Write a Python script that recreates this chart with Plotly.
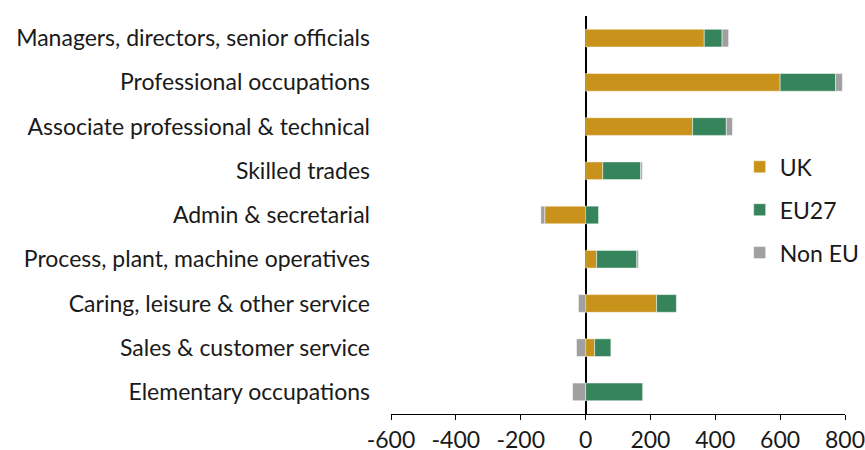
import plotly.graph_objects as go

categories = [
    "Managers, directors, senior officials",
    "Professional occupations",
    "Associate professional & technical",
    "Skilled trades",
    "Admin & secretarial",
    "Process, plant, machine operatives",
    "Caring, leisure & other service",
    "Sales & customer service",
    "Elementary occupations",
]
uk = [366, 600, 330, 53, -126, 34, 219, 28, 0]
eu27 = [55, 171, 104, 117, 40, 124, 61, 50, 176]
non_eu = [20, 21, 19, 5, -12, 5, -22, -28, -40]
tick_vals = [-600, -400, -200, 0, 200, 400, 600, 800]
tick_text = ["-600", "-400", "-200", "0", "200", "400", "600", "800"]

FONT = "Lato"
fig = go.Figure()
series = [("UK", uk, "#C9921A"), ("EU27", eu27, "#35845B"), ("Non EU", non_eu, "#A0A0A0")]
for name, vals, col in series:
    fig.add_trace(go.Bar(
        y=categories, x=vals, name=name, orientation="h",
        marker=dict(color=col, line=dict(color="rgba(255,255,255,0.6)", width=0.8)),
        legendgroup=name,
    ))

fig.update_layout(
    width=865, height=450,
    margin=dict(l=391, r=20, t=16, b=36, autoexpand=False),
    barmode="relative", bargap=0.6,
    plot_bgcolor="white", paper_bgcolor="white",
    font=dict(family=FONT, size=23, color="#1a1a1a"),
    legend=dict(x=0.768, y=0.675, xanchor="left", yanchor="top",
                traceorder="grouped", tracegroupgap=10,
                font=dict(size=23), bgcolor="rgba(0,0,0,0)"),
    showlegend=True,
)
fig.update_xaxes(range=[-600, 800], tickvals=tick_vals, ticktext=tick_text,
                 showgrid=False, automargin=False, ticklabeloverflow="allow",
                 showline=True, linecolor="black", linewidth=1,
                 ticks="outside", ticklen=5, tickcolor="black",
                 zeroline=True, zerolinecolor="black", zerolinewidth=2)
fig.update_yaxes(autorange="reversed", showgrid=False, showline=False, automargin=False,
                 ticks="", ticklabelstandoff=20)

fig.write_html("out.html", config={"displayModeBar": False},
               post_script="document.body.style.margin='0';document.body.style.overflow='hidden';")
